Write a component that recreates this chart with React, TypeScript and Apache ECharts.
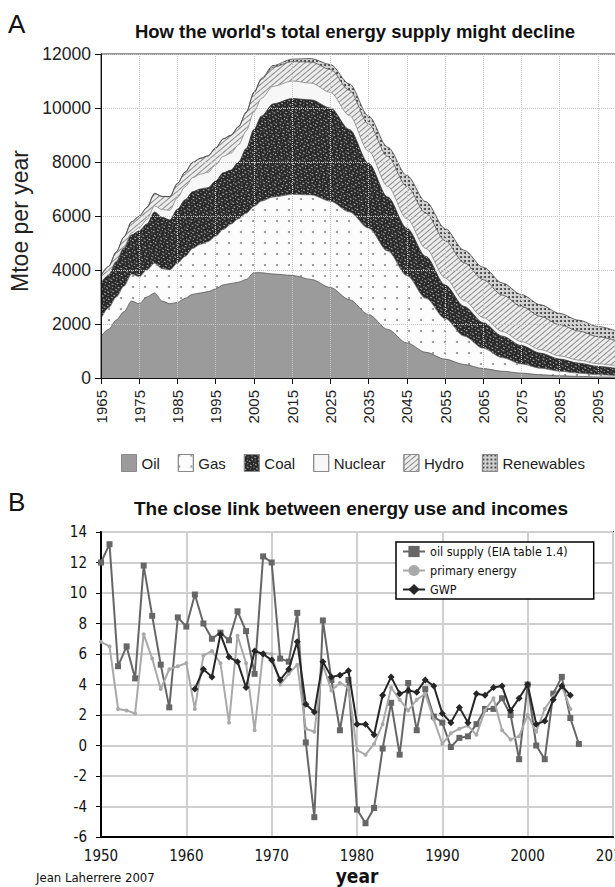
import React, { useEffect, useRef } from "react";
import * as echarts from "echarts";

// ---------- Panel A: world energy supply (Mtoe per year) ----------
const energyYears = [1965, 1967, 1969, 1971, 1973, 1975, 1977, 1979, 1981, 1983, 1985, 1987, 1989, 1991, 1993, 1995, 1997, 1999, 2001, 2003, 2005, 2007, 2010, 2015, 2020, 2025, 2030, 2035, 2040, 2045, 2050, 2055, 2060, 2065, 2070, 2075, 2080, 2085, 2090, 2095, 2100];
const oil = [1550, 1800, 2150, 2450, 2850, 2750, 3000, 3150, 2850, 2750, 2800, 2950, 3100, 3150, 3200, 3300, 3450, 3500, 3550, 3650, 3900, 3900, 3850, 3800, 3650, 3350, 2900, 2350, 1800, 1300, 950, 700, 500, 350, 250, 180, 120, 80, 60, 40, 30];
const gas = [650, 800, 850, 950, 1000, 1000, 1000, 1100, 1200, 1250, 1450, 1550, 1700, 1800, 1850, 1950, 2050, 2200, 2350, 2450, 2450, 2650, 2850, 3000, 3130, 3200, 3250, 3200, 2900, 2500, 2000, 1500, 1050, 750, 500, 340, 240, 170, 120, 80, 60];
const coal = [1300, 1200, 1300, 1400, 1450, 1700, 1700, 1900, 1900, 1850, 2000, 2100, 2100, 2050, 2000, 2050, 2100, 2000, 2100, 2400, 2850, 3150, 3450, 3550, 3520, 3450, 3050, 2400, 2000, 1750, 1550, 1250, 1100, 950, 800, 680, 560, 450, 370, 310, 260];
const nuclear = [10, 20, 30, 50, 80, 120, 170, 220, 290, 360, 430, 480, 520, 550, 570, 590, 610, 630, 640, 650, 660, 660, 650, 650, 620, 580, 520, 450, 400, 350, 300, 260, 220, 190, 170, 150, 130, 120, 110, 100, 90];
const hydro = [280, 310, 340, 370, 400, 420, 440, 460, 480, 500, 520, 540, 560, 580, 600, 620, 640, 650, 660, 680, 690, 700, 710, 720, 780, 850, 930, 1000, 1100, 1200, 1300, 1380, 1400, 1400, 1350, 1300, 1230, 1150, 1080, 1000, 930];
const renewables = [5, 5, 5, 5, 5, 5, 5, 8, 8, 8, 10, 10, 10, 12, 12, 12, 15, 15, 18, 20, 30, 40, 60, 90, 130, 180, 240, 300, 350, 400, 430, 450, 460, 460, 450, 440, 430, 420, 400, 380, 360];
const energyNames = ["Oil", "Gas", "Coal", "Nuclear", "Hydro", "Renewables"];
const energyStartYear = 1965;

// ---------- Panel B: growth rates (%) ----------
const oilSupplyYears = [1950, 1951, 1952, 1953, 1954, 1955, 1956, 1957, 1958, 1959, 1960, 1961, 1962, 1963, 1964, 1965, 1966, 1967, 1968, 1969, 1970, 1971, 1972, 1973, 1974, 1975, 1976, 1977, 1978, 1979, 1980, 1981, 1982, 1983, 1984, 1985, 1986, 1987, 1988, 1989, 1990, 1991, 1992, 1993, 1994, 1995, 1996, 1997, 1998, 1999, 2000, 2001, 2002, 2003, 2004, 2005, 2006];
const oilSupply = [12.0, 13.2, 5.2, 6.5, 4.4, 11.8, 8.5, 5.3, 2.5, 8.4, 7.8, 9.9, 8.0, 7.0, 7.4, 6.9, 8.8, 7.5, 4.7, 12.4, 12.0, 5.7, 5.5, 8.7, 0.2, -4.7, 8.2, 4.3, 1.0, 4.3, -4.2, -5.1, -4.1, -0.2, 2.8, -0.6, 4.1, 1.0, 3.7, 1.9, 1.5, -0.1, 0.5, 0.6, 1.4, 2.4, 2.4, 3.1, 2.0, -0.9, 4.0, 0.0, -0.9, 3.4, 4.5, 1.8, 0.1];
const primaryYears = [1950, 1951, 1952, 1953, 1954, 1955, 1956, 1957, 1958, 1959, 1960, 1961, 1962, 1963, 1964, 1965, 1966, 1967, 1968, 1969, 1970, 1971, 1972, 1973, 1974, 1975, 1976, 1977, 1978, 1979, 1980, 1981, 1982, 1983, 1984, 1985, 1986, 1987, 1988, 1989, 1990, 1991, 1992, 1993, 1994, 1995, 1996, 1997, 1998, 1999, 2000, 2001, 2002, 2003, 2004, 2005];
const primaryEnergy = [6.8, 6.5, 2.4, 2.3, 2.1, 7.3, 5.7, 3.7, 5.0, 5.2, 5.4, 2.4, 5.9, 6.2, 5.4, 1.5, 7.2, 5.4, 1.0, 6.1, 6.0, 4.0, 4.7, 5.3, 1.1, 0.9, 5.3, 3.6, 4.1, 3.8, -0.3, -0.6, 0.1, 1.4, 3.8, 3.0, 2.3, 3.0, 3.4, 1.7, 0.1, 0.8, 1.1, 1.3, 0.7, 2.3, 3.1, 1.0, 0.4, 0.6, 2.0, 0.9, 2.4, 3.2, 3.9, 2.4];
const gwpYears = [1961, 1962, 1963, 1964, 1965, 1966, 1967, 1968, 1969, 1970, 1971, 1972, 1973, 1974, 1975, 1976, 1977, 1978, 1979, 1980, 1981, 1982, 1983, 1984, 1985, 1986, 1987, 1988, 1989, 1990, 1991, 1992, 1993, 1994, 1995, 1996, 1997, 1998, 1999, 2000, 2001, 2002, 2003, 2004, 2005];
const gwp = [3.7, 5.0, 4.5, 7.3, 5.8, 5.5, 3.8, 6.2, 6.0, 5.6, 4.3, 5.0, 6.8, 2.7, 2.2, 5.5, 4.5, 4.6, 4.9, 1.4, 1.4, 0.7, 3.3, 4.5, 3.4, 3.6, 3.5, 4.3, 3.9, 2.1, 1.5, 2.5, 1.5, 3.4, 3.3, 3.8, 3.9, 2.3, 3.1, 4.0, 1.4, 1.6, 3.0, 3.9, 3.3];
const lineNames = ["oil supply (EIA table 1.4)", "primary energy", "GWP"];

const FA = "'Liberation Sans', Arial, Helvetica, sans-serif";
const FB = "'DejaVu Sans Condensed', 'Liberation Sans Narrow', 'Roboto Condensed', 'Open Sans', sans-serif";

const energyStyles: any[] = [
  { color: "#9b9b9b", decal: null, line: "#555" },
  { color: "#fcfcfc", decal: { symbol: "circle", symbolSize: 1, dashArrayX: [1.6, 10], dashArrayY: [1.6, 9], color: "#8a8a8a" }, line: "#777" },
  { color: "#2a2a2a", decal: { symbol: "rect", symbolSize: 1, dashArrayX: [[1, 2, 2, 1.5], [2, 1.5, 1, 2.5], [1.5, 3, 1, 1]], dashArrayY: [1, 1.2], rotation: 0.5, color: "rgba(255,255,255,0.6)" }, line: "#333" },
  { color: "#f7f7f7", decal: { symbol: "circle", symbolSize: 1, dashArrayX: [1, 3], dashArrayY: [1, 3], color: "#b5b5b5" }, line: "#888" },
  { color: "#ececec", decal: { symbol: "rect", symbolSize: 1, dashArrayX: [1, 0], dashArrayY: [1, 3], rotation: -0.7, color: "#8c8c8c" }, line: "#555" },
  { color: "#d2d2d2", decal: { symbol: "circle", symbolSize: 1, dashArrayX: [1.4, 1.4], dashArrayY: [1.4, 1.4], color: "#3a3a3a" }, line: "#444" },
];

export default function App() {
  const ref = useRef<HTMLDivElement>(null);
  useEffect(() => {
    if (!ref.current) return;
    const chart = echarts.init(ref.current, undefined, { renderer: "svg" });
    const energySeries = [oil, gas, coal, nuclear, hydro, renewables];
    // cumulative tops of the stack (bottom to top)
    const tops: number[][] = [];
    energySeries.forEach((vals, i) => {
      tops.push(vals.map((v, k) => v + (i > 0 ? tops[i - 1][k] : 0)));
    });
    // draw from the top band down so each lower band covers the one above it
    const areaSeries = [5, 4, 3, 2, 1, 0].map((i) => ({
      name: energyNames[i],
      type: "line",
      xAxisIndex: 0,
      yAxisIndex: 0,
      showSymbol: false,
      smooth: 0.3,
      smoothMonotone: "x",
      data: energyYears.map((y, k) => [y - energyStartYear, tops[i][k]]),
      lineStyle: { width: 0.8, color: energyStyles[i].line },
      itemStyle: {
        color: energyStyles[i].color,
        ...(energyStyles[i].decal ? { decal: energyStyles[i].decal } : {}),
      },
      areaStyle: { color: energyStyles[i].color, opacity: 1, origin: "start" },
      z: 2,
    }));
    const lineCfg = [
      { years: oilSupplyYears, vals: oilSupply, color: "#666666", symbol: "rect", size: 6 },
      { years: primaryYears, vals: primaryEnergy, color: "#a9a9a9", symbol: "circle", size: 4 },
      { years: gwpYears, vals: gwp, color: "#262626", symbol: "diamond", size: 7 },
    ];
    const lineSeries = lineCfg.map((c, i) => ({
      name: lineNames[i],
      type: "line",
      xAxisIndex: 1,
      yAxisIndex: 1,
      symbol: c.symbol,
      symbolSize: c.size,
      showSymbol: true,
      data: c.years.map((y, k) => [y, c.vals[k]]),
      lineStyle: { width: 2, color: c.color },
      itemStyle: { color: c.color },
      z: 3 + i,
    }));

    chart.setOption({
      animation: false,
      backgroundColor: "#fff",
      grid: [
        { left: 101, top: 54, width: 516, height: 324, show: true, borderColor: "#333", borderWidth: 1, backgroundColor: "transparent" },
        { left: 101, top: 532, width: 512, height: 305, show: true, borderColor: "#000", borderWidth: 2, backgroundColor: "transparent" },
      ],
      xAxis: [
        {
          type: "value", gridIndex: 0, min: 0, max: 135, interval: 10,
          axisLine: { show: true, lineStyle: { color: "#111", width: 1 } },
          axisTick: { show: true, length: 6, lineStyle: { color: "#111" } },
          axisLabel: { rotate: 90, margin: 12, fontSize: 15, color: "#222", fontFamily: FA, showMaxLabel: false, formatter: (v: number) => String(v + energyStartYear) },
          splitLine: { show: true, lineStyle: { color: "#c4c4c4", type: "dotted", width: 1 } },
          z: 5,
        },
        {
          type: "value", gridIndex: 1, min: 1950, max: 2010, interval: 10,
          axisLine: { show: true, onZero: false, lineStyle: { color: "#000", width: 2 } },
          axisTick: { show: false },
          axisLabel: { margin: 11, fontSize: 15, color: "#111", fontFamily: FB, formatter: (v: number) => String(v) },
          splitLine: { show: true, lineStyle: { color: "#cfcfcf", width: 2 } },
        },
      ],
      yAxis: [
        {
          type: "value", gridIndex: 0, min: 0, max: 12000, interval: 2000,
          axisLine: { show: true, lineStyle: { color: "#111", width: 1 } },
          axisTick: { show: true, length: 6, lineStyle: { color: "#111" } },
          axisLabel: { margin: 10, fontSize: 17.5, color: "#222", fontFamily: FA, formatter: (v: number) => String(v) },
          splitLine: { show: true, lineStyle: { color: "#c4c4c4", type: "dotted", width: 1 } },
          z: 5,
        },
        {
          type: "value", gridIndex: 1, min: -6, max: 14, interval: 2,
          axisLine: { show: true, onZero: false, lineStyle: { color: "#000", width: 2 } },
          axisTick: { show: true, length: 5, lineStyle: { color: "#000" } },
          axisLabel: { margin: 14, fontSize: 15, color: "#111", fontFamily: FB, formatter: (v: number) => String(v) },
          splitLine: { show: true, lineStyle: { color: "#cfcfcf", width: 2 } },
        },
      ],
      legend: [
        {
          data: energyNames.map((n, i) => ({
            name: n,
            icon: "rect",
            itemStyle: {
              color: energyStyles[i].color,
              borderColor: "#8a8a8a",
              borderWidth: 1,
              ...(energyStyles[i].decal ? { decal: energyStyles[i].decal } : {}),
            },
          })),
          left: 116, top: 449, itemWidth: 15, itemHeight: 17, itemGap: 18,
          textStyle: { fontSize: 15, color: "#222", fontFamily: FA },
        },
        {
          data: lineNames,
          orient: "vertical",
          left: 396, top: 542,
          itemWidth: 22, itemHeight: 14, itemGap: 6,
          padding: [3, 26, 3, 6],
          backgroundColor: "#fff", borderColor: "#000", borderWidth: 1.5,
          textStyle: { fontSize: 12.5, color: "#111", fontFamily: FB },
        },
      ],
      graphic: [
        { type: "text", left: 8, top: 11, style: { text: "A", fontSize: 26, fill: "#111", fontFamily: FA } },
        { type: "text", x: 355, y: 31, style: { text: "How the world's total energy supply might decline", fontSize: 18.5, fontWeight: "bold", fill: "#111", fontFamily: FA, textAlign: "center", textVerticalAlign: "middle" } },
        { type: "text", x: 20, y: 221, rotation: Math.PI / 2, style: { text: "Mtoe per year", fontSize: 23, fill: "#222", fontFamily: FA, textAlign: "center", textVerticalAlign: "middle" } },
        { type: "text", left: 8, top: 489, style: { text: "B", fontSize: 26, fill: "#111", fontFamily: FA } },
        { type: "text", x: 351, y: 508, style: { text: "The close link between energy use and incomes", fontSize: 19, fontWeight: "bold", fill: "#111", fontFamily: FA, textAlign: "center", textVerticalAlign: "middle" } },
        { type: "text", x: 357, y: 876, style: { text: "year", fontSize: 19, fontWeight: "bold", fill: "#111", fontFamily: FB, textAlign: "center", textVerticalAlign: "middle" } },
        { type: "text", x: 36, y: 877, style: { text: "Jean Laherrere 2007", fontSize: 13, fill: "#111", fontFamily: FB, textAlign: "left", textVerticalAlign: "middle" } },
      ],
      series: [...areaSeries, ...lineSeries],
    });
    return () => chart.dispose();
  }, []);
  return (
    <div style={{ position: "fixed", left: 0, top: 0, width: 615, height: 887, overflow: "hidden", background: "#fff" }}>
      <div ref={ref} style={{ width: 640, height: 887 }} />
    </div>
  );
}
